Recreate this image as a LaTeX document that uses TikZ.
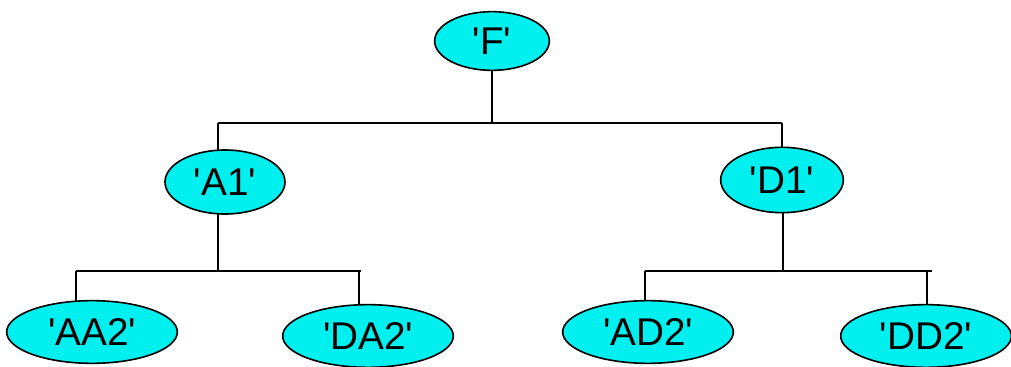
\documentclass[tikz,border=0pt]{standalone}
\usepackage{fontspec}
\setmainfont{Liberation Sans}
\usepackage{tikz}
\usetikzlibrary{shapes.geometric}
\usetikzlibrary{backgrounds}

\definecolor{leafcyan}{RGB}{0,240,240}
\newcommand{\qname}[1]{\textquotesingle#1\textquotesingle}

\tikzset{
  wnode/.style={ellipse, draw=black, line width=1.2pt, fill=leafcyan, inner sep=0pt,
                font=\fontsize{29}{34}\selectfont},
  twig/.style={draw=black, line width=1.2pt}
}

\begin{document}
\begin{tikzpicture}[x=0.75pt, y=-0.75pt]
 \useasboundingbox (0,0) rectangle (1011,367);

 %level 0
 \node[wnode, minimum width=86pt, minimum height=44pt] (F) at (492,41) {\qname{F}};

 %level 1
 \node[wnode, minimum width=90pt, minimum height=48pt] (A1) at (225,182) {\qname{A1}};
 \node[wnode, minimum width=92pt, minimum height=49pt] (D1) at (782,180) {\qname{D1}};

 %level 2
 \foreach \x/\y/\name in {92/332/AA2, 368/336/DA2, 648/332/AD2, 926/336/DD2} {
   \node[wnode, minimum width=128pt, minimum height=47pt] (\name) at (\x,\y) {\qname{\name}};
 }

 %bars
 \coordinate (barL) at (218,123);
 \coordinate (barR) at (782,123);
 \coordinate (stemA) at (218,271);
 \coordinate (AA2top) at (76,271);
 \coordinate (DA2top) at (359,271);
 \coordinate (endA) at (361,271);
 \coordinate (stemD) at (783,271);
 \coordinate (AD2top) at (645,271);
 \coordinate (DD2top) at (927,271);
 \coordinate (endD) at (932,271);

 \begin{scope}[on background layer]
   \draw[twig] (F.south) -- (F.south |- barL);
   \draw[twig] (barL) -- (barR);
   \draw[twig] (barL) -- (barL |- A1.center);
   \draw[twig] (barR) -- (D1.center);

   \draw[twig] (stemA |- A1.center) -- (stemA);
   \draw[twig] (AA2top) -- (endA);
   \draw[twig] (AA2top) -- (AA2top |- AA2.center);
   \draw[twig] (DA2top) -- (DA2top |- DA2.center);

   \draw[twig] (stemD |- D1.center) -- (stemD);
   \draw[twig] (AD2top) -- (endD);
   \draw[twig] (AD2top) -- (AD2top |- AD2.center);
   \draw[twig] (DD2top) -- (DD2top |- DD2.center);
 \end{scope}

\end{tikzpicture}
\end{document}
